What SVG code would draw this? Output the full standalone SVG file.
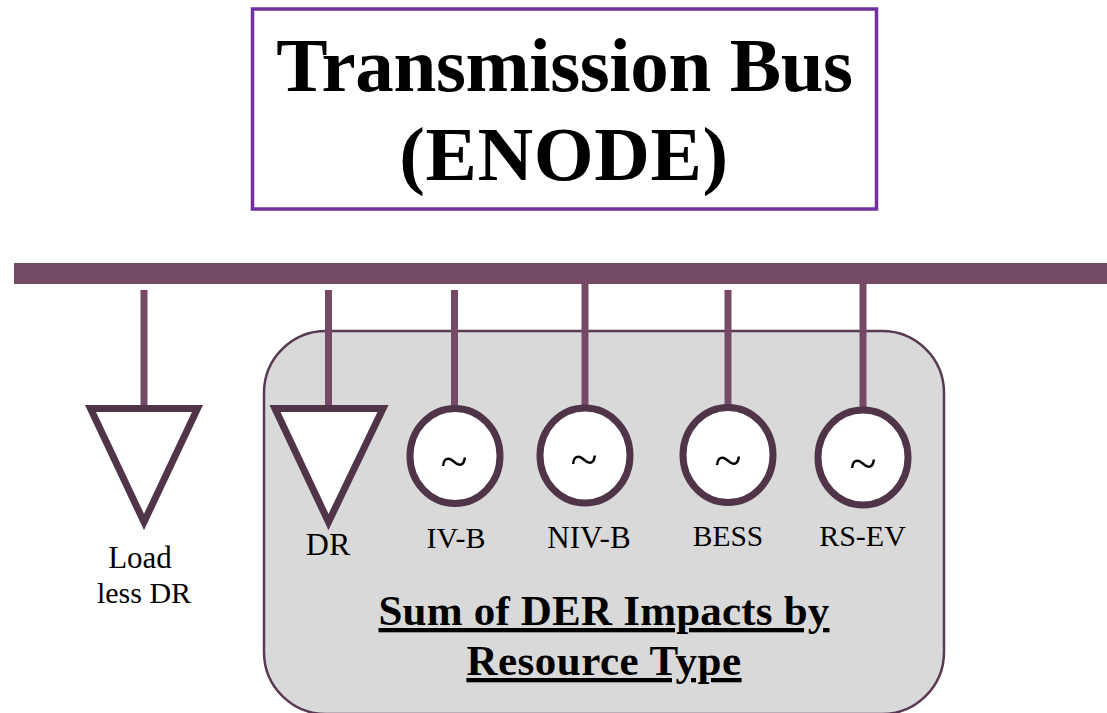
<svg xmlns="http://www.w3.org/2000/svg" width="1107" height="713" viewBox="0 0 1107 713">
<style>
.t{font-family:"Liberation Serif","Times New Roman",serif;fill:#000;text-anchor:middle}
.title{font-size:77px;font-weight:700}
.lbl{font-size:30px}
.sum{font-size:43px;font-weight:700;text-decoration:underline}
.wire{stroke:#744a65;stroke-width:7;fill:none}
.sym{stroke:#503548;stroke-width:7;fill:#fff}
.tilde{font-size:50px}
</style>
<rect width="1107" height="713" fill="#fff"/>
<g id="title"><rect x="252.500" y="9" width="624" height="200" fill="#fff" stroke="#7030a0" stroke-width="3.500"/>
<text class="t title" x="564.500" y="91" letter-spacing="-0.4">Transmission Bus</text>
<text class="t title" x="564" y="180" letter-spacing="0.6">(ENODE)</text></g>
<g id="der-box"><rect x="264" y="331" width="680" height="383" rx="62" fill="#d9d9d9" stroke="#583a52" stroke-width="2.500"/>
<text class="t sum" x="604" y="625" letter-spacing="0.2">Sum of DER Impacts by</text>
<text class="t sum" x="604" y="675" letter-spacing="0.5">Resource Type</text></g>
<g id="bus"><rect x="14" y="263" width="1093" height="21" fill="#744a65"/></g>
<g id="connectors">
<path class="wire" d="M144 290V408"/>
<path class="wire" d="M328.500 290V408"/>
<path class="wire" d="M454.500 290V408"/>
<path class="wire" d="M585 284V408"/>
<path class="wire" d="M728 290V408"/>
<path class="wire" d="M863 284V408"/>
</g>
<g id="load"><path class="sym" d="M90.500 408.500H197.500L144 522Z"/><text class="t lbl" x="140" y="568" style="font-size:31px">Load</text><text class="t lbl" x="144" y="603">less DR</text></g>
<g id="dr"><path class="sym" d="M275 408.500H383L328.500 522Z"/><text class="t lbl" x="328" y="555" style="font-size:32px">DR</text></g>
<g id="iv-b"><ellipse class="sym" cx="455" cy="456" rx="45" ry="47.500"/><text class="t tilde" x="454" y="478">~</text><text class="t lbl" x="456" y="548">IV-B</text></g>
<g id="niv-b"><ellipse class="sym" cx="585" cy="455.500" rx="45" ry="47.500"/><text class="t tilde" x="584" y="476">~</text><text class="t lbl" x="589" y="548" style="font-size:31px">NIV-B</text></g>
<g id="bess"><ellipse class="sym" cx="728" cy="455" rx="45" ry="47.500"/><text class="t tilde" x="728" y="477">~</text><text class="t lbl" x="728" y="546" style="font-size:29.500px">BESS</text></g>
<g id="rs-ev"><ellipse class="sym" cx="863" cy="457.500" rx="45" ry="47.500"/><text class="t tilde" x="863" y="480">~</text><text class="t lbl" x="862.500" y="546">RS-EV</text></g>
</svg>
